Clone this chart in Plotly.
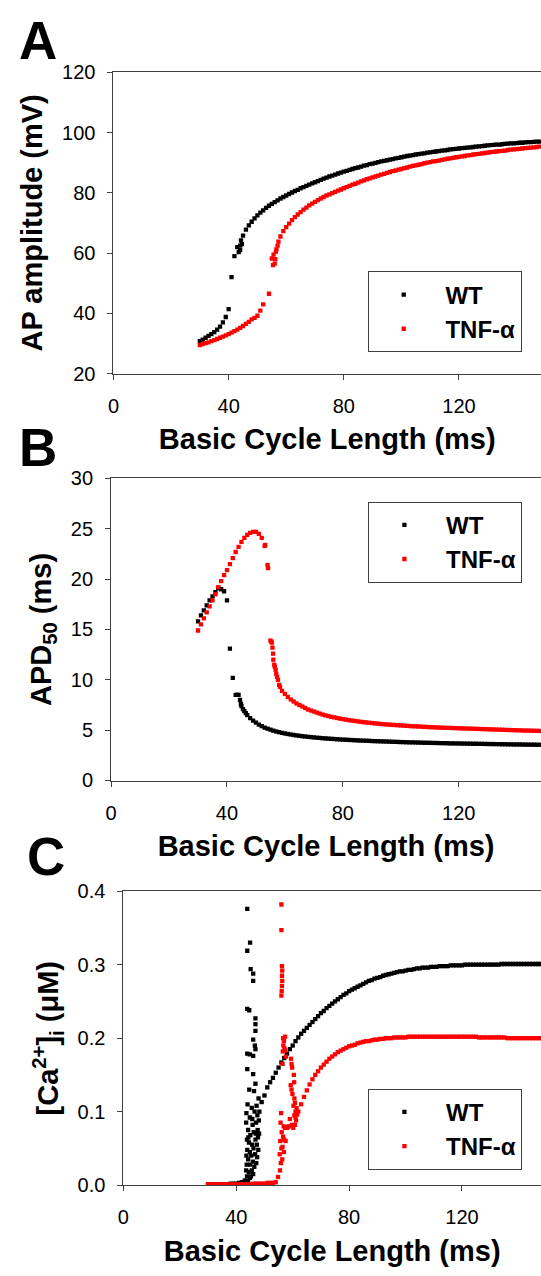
import plotly.graph_objects as go

# ---------------- data ----------------
bcl = [30, 31, 32, 33, 34, 35, 36, 37, 38, 39,
       40, 41, 42, 43, 44, 45, 46, 47, 48, 49,
       50, 51, 52, 53, 54, 55, 56, 57, 58, 59,
       60, 61, 62, 63, 64, 65, 66, 67, 68, 69,
       70, 71, 72, 73, 74, 75, 76, 77, 78, 79,
       80, 81, 82, 83, 84, 85, 86, 87, 88, 89,
       90, 91, 92, 93, 94, 95, 96, 97, 98, 99,
       100, 101, 102, 103, 104, 105, 106, 107, 108, 109,
       110, 111, 112, 113, 114, 115, 116, 117, 118, 119,
       120, 121, 122, 123, 124, 125, 126, 127, 128, 129,
       130, 131, 132, 133, 134, 135, 136, 137, 138, 139,
       140, 141, 142, 143, 144, 145, 146, 147, 148]

# Panel A: AP amplitude (mV)
amp_wt = [30.8, 31.3, 31.9, 32.5, 33.1, 33.8, 34.6, 35.6, 37.0, 38.8,
          41.4, 52.0, 59.0, 62.0, 61.0, 65.8, 67.8, 69.2, 70.4, 71.5,
          72.5, 73.4, 74.2, 75.0, 75.7, 76.3, 76.9, 77.5, 78.1, 78.6,
          79.1, 79.6, 80.1, 80.6, 81.0, 81.5, 81.9, 82.3, 82.7, 83.1,
          83.5, 83.9, 84.3, 84.7, 85.0, 85.4, 85.7, 86.0, 86.4, 86.7,
          87.0, 87.3, 87.6, 87.9, 88.2, 88.4, 88.7, 89.0, 89.2, 89.5,
          89.7, 89.9, 90.2, 90.4, 90.6, 90.8, 91.0, 91.2, 91.4, 91.6,
          91.8, 92.0, 92.2, 92.3, 92.5, 92.7, 92.8, 93.0, 93.1, 93.3,
          93.4, 93.6, 93.7, 93.8, 94.0, 94.1, 94.2, 94.4, 94.5, 94.6,
          94.7, 94.8, 94.9, 95.0, 95.1, 95.2, 95.3, 95.4, 95.5, 95.6,
          95.7, 95.8, 95.9, 96.0, 96.0, 96.1, 96.2, 96.3, 96.4, 96.4,
          96.5, 96.6, 96.6, 96.7, 96.8, 96.8, 96.9, 97.0, 97.0]
amp_tnf = [29.5, 29.8, 30.1, 30.4, 30.8, 31.1, 31.5, 31.9, 32.3, 32.7,
           33.1, 33.6, 34.1, 34.6, 35.2, 35.8, 36.5, 37.2, 38.0, 38.5,
           39.2, 40.9, 43.0, None, 46.5, 58.2, 56.5, 62.5, 65.5, 67.3,
           68.6, 69.8, 70.9, 71.9, 72.8, 73.6, 74.4, 75.1, 75.8, 76.4,
           77.0, 77.6, 78.1, 78.6, 79.1, 79.5, 79.9, 80.3, 80.7, 81.1,
           81.5, 81.9, 82.3, 82.7, 83.0, 83.4, 83.8, 84.1, 84.5, 84.8,
           85.1, 85.4, 85.7, 86.0, 86.3, 86.6, 86.9, 87.2, 87.4, 87.7,
           87.9, 88.2, 88.4, 88.7, 88.9, 89.1, 89.3, 89.5, 89.8, 90.0,
           90.2, 90.4, 90.5, 90.7, 90.9, 91.1, 91.3, 91.4, 91.6, 91.8,
           91.9, 92.1, 92.2, 92.4, 92.5, 92.7, 92.8, 92.9, 93.1, 93.2,
           93.3, 93.5, 93.6, 93.7, 93.8, 93.9, 94.0, 94.2, 94.3, 94.4,
           94.5, 94.6, 94.7, 94.8, 94.9, 95.0, 95.1, 95.2, 95.3]
amp_wt_extra_x = [43.5, 44.0, 44.3, 44.6]
amp_wt_extra_y = [60.3, 62.5, 64.2, 63.0]
amp_tnf_extra_x = [55.4, 55.6, 56.2, 56.4, 56.6, 57.3]
amp_tnf_extra_y = [56.0, 59.5, 58.0, 60.5, 61.2, 63.8]

# Panel B: APD50 (ms)
apd_wt = [15.8, 16.4, 16.9, 17.4, 17.9, 18.3, 18.7, 19.1, 19.0, 18.8,
          17.9, 13.1, 10.2, 8.5, 8.5, 7.4, 6.9, 6.5, 6.2, 5.95,
          5.75, 5.55, 5.4, 5.25, 5.15, 5.05, 4.95, 4.87, 4.8, 4.73,
          4.67, 4.62, 4.57, 4.52, 4.48, 4.44, 4.40, 4.37, 4.34, 4.31,
          4.28, 4.25, 4.23, 4.20, 4.18, 4.16, 4.14, 4.12, 4.10, 4.08,
          4.06, 4.05, 4.03, 4.02, 4.00, 3.99, 3.97, 3.96, 3.95, 3.94,
          3.92, 3.91, 3.90, 3.89, 3.88, 3.87, 3.86, 3.85, 3.84, 3.83,
          3.82, 3.81, 3.80, 3.79, 3.79, 3.78, 3.77, 3.76, 3.75, 3.75,
          3.74, 3.73, 3.73, 3.72, 3.71, 3.71, 3.70, 3.69, 3.69, 3.68,
          3.68, 3.67, 3.67, 3.66, 3.66, 3.65, 3.65, 3.64, 3.64, 3.63,
          3.63, 3.62, 3.62, 3.61, 3.61, 3.60, 3.60, 3.59, 3.59, 3.58,
          3.58, 3.58, 3.57, 3.57, 3.56, 3.56, 3.56, 3.55, 3.55]
apd_tnf = [14.9, 15.5, 16.1, 16.7, 17.3, 17.9, 18.5, 19.2, 19.8, 20.4,
           20.9, 21.5, 22.1, 22.7, 23.2, 23.7, 24.1, 24.4, 24.6, 24.7,
           24.7, 24.5, 24.1, 23.3, 21.4, 13.9, 12.0, 10.6, 9.5, 8.9,
           8.6, 8.3, 8.05, 7.85, 7.65, 7.5, 7.35, 7.2, 7.05, 6.95,
           6.85, 6.75, 6.65, 6.55, 6.47, 6.4, 6.33, 6.27, 6.21, 6.15,
           6.1, 6.05, 6.0, 5.96, 5.92, 5.88, 5.84, 5.8, 5.77, 5.74,
           5.71, 5.68, 5.65, 5.62, 5.6, 5.57, 5.55, 5.53, 5.51, 5.49,
           5.47, 5.45, 5.43, 5.41, 5.39, 5.38, 5.36, 5.35, 5.33, 5.32,
           5.3, 5.29, 5.28, 5.26, 5.25, 5.24, 5.23, 5.22, 5.21, 5.2,
           5.19, 5.18, 5.17, 5.16, 5.15, 5.14, 5.13, 5.12, 5.11, 5.1,
           5.09, 5.08, 5.07, 5.06, 5.05, 5.04, 5.03, 5.02, 5.01, 5.0,
           4.99, 4.98, 4.97, 4.96, 4.96, 4.95, 4.94, 4.93, 4.92]
apd_wt_extra_x = [43.5, 44.5, 44.8, 45.5, 46.5]
apd_wt_extra_y = [8.5, 8.0, 7.6, 7.1, 6.7]
apd_tnf_extra_x = [53.2, 54.2, 55.3, 55.5, 55.7, 55.9, 56.3, 56.5, 56.8, 57.3, 57.6, 58.3]
apd_tnf_extra_y = [23.4, 21.1, 13.8, 13.7, 13.2, 12.6, 11.5, 11.3, 11.0, 10.3, 10.0, 9.3]

# Panel C: [Ca2+]i (uM)
ca_wt = [0.001, 0.001, 0.001, 0.001, 0.001, 0.001, 0.001, 0.001, 0.002, 0.002,
         0.002, 0.003, 0.004, 0.006, None, None, None, None, None, 0.113,
         0.122, 0.133, 0.140, 0.146, 0.153, 0.160, 0.167, 0.173, 0.179, 0.185,
         0.190, 0.196, 0.201, 0.206, 0.210, 0.214, 0.218, 0.222, 0.226, 0.230,
         0.234, 0.237, 0.241, 0.244, 0.247, 0.250, 0.253, 0.256, 0.259, 0.261,
         0.264, 0.266, 0.268, 0.270, 0.272, 0.274, 0.276, 0.278, 0.279, 0.281,
         0.282, 0.283, 0.285, 0.286, 0.287, 0.288, 0.289, 0.290, 0.291, 0.291,
         0.292, 0.293, 0.293, 0.294, 0.295, 0.295, 0.296, 0.296, 0.296, 0.297,
         0.297, 0.297, 0.298, 0.298, 0.298, 0.298, 0.299, 0.299, 0.299, 0.299,
         0.299, 0.300, 0.300, 0.300, 0.300, 0.300, 0.300, 0.300, 0.300, 0.300,
         0.300, 0.300, 0.300, 0.300, 0.301, 0.301, 0.301, 0.301, 0.301, 0.301,
         0.301, 0.301, 0.301, 0.301, 0.301, 0.301, 0.301, 0.301, 0.301]
ca_tnf = [0.001, 0.001, 0.001, 0.001, 0.001, 0.001, 0.001, 0.001, 0.001, 0.001,
          0.001, 0.001, 0.001, 0.001, 0.001, 0.001, 0.002, 0.002, 0.002, 0.002,
          0.002, 0.003, 0.003, 0.003, 0.004, None, None, None, None, None,
          None, 0.092, 0.100, 0.110, 0.120, 0.129, 0.137, 0.144, 0.150, 0.155,
          0.160, 0.164, 0.168, 0.172, 0.175, 0.178, 0.181, 0.183, 0.185, 0.187,
          0.189, 0.190, 0.191, 0.193, 0.194, 0.195, 0.196, 0.196, 0.197, 0.198,
          0.198, 0.199, 0.199, 0.200, 0.200, 0.200, 0.201, 0.201, 0.201, 0.201,
          0.201, 0.202, 0.202, 0.202, 0.202, 0.202, 0.202, 0.202, 0.202, 0.202,
          0.202, 0.202, 0.202, 0.202, 0.202, 0.202, 0.202, 0.202, 0.202, 0.202,
          0.202, 0.202, 0.202, 0.202, 0.202, 0.202, 0.201, 0.201, 0.201, 0.201,
          0.201, 0.201, 0.201, 0.201, 0.201, 0.201, 0.200, 0.200, 0.200, 0.200,
          0.200, 0.200, 0.200, 0.200, 0.200, 0.200, 0.200, 0.200, 0.200]
ca_wt_extra_x = [43.9, 44.9, 43.9, 45.1, 46.0, 46.0, 43.9, 44.6, 46.8, 46.8,
                 46.8, 46.0, 46.6, 46.8, 43.9, 44.8, 46.0, 43.9, 46.0, 46.8,
                 44.6, 46.3, 47.9, 44.0, 45.5, 47.2, 43.6, 46.5, 48.2, 44.8,
                 47.5, 43.5, 45.8, 47.0, 48.0, 44.2, 46.2, 47.6, 45.0, 43.8,
                 46.8, 48.1, 44.5, 45.6, 47.3, 43.9, 46.1, 47.8, 44.8, 43.6,
                 45.3, 46.7, 47.4, 44.2, 45.9, 43.7, 44.9, 46.4, 47.1, 43.5,
                 44.4, 45.5, 46.0, 43.8, 44.8, 45.2, 43.4, 44.2, 47.7, 46.9,
                 45.7, 44.3]
ca_wt_extra_y = [0.376, 0.330, 0.319, 0.294, 0.288, 0.278, 0.240, 0.238, 0.227, 0.219,
                 0.210, 0.198, 0.190, 0.185, 0.179, 0.178, 0.176, 0.158, 0.151, 0.138,
                 0.130, 0.128, 0.118, 0.110, 0.105, 0.108, 0.098, 0.100, 0.100, 0.092,
                 0.095, 0.085, 0.082, 0.085, 0.088, 0.075, 0.072, 0.075, 0.068, 0.062,
                 0.062, 0.070, 0.058, 0.055, 0.055, 0.048, 0.050, 0.048, 0.045, 0.040,
                 0.040, 0.042, 0.038, 0.035, 0.032, 0.028, 0.028, 0.025, 0.030, 0.020,
                 0.018, 0.020, 0.015, 0.012, 0.010, 0.012, 0.006, 0.005, 0.065, 0.070,
                 0.090, 0.065]
ca_tnf_extra_x = [54.8, 55.5, 55.8, 55.4, 56.0, 55.6, 56.1, 55.7, 55.9, 56.0,
                  56.0, 56.2, 56.3, 56.2, 56.3, 56.2, 56.1, 56.0, 56.6, 56.9,
                  57.3, 56.7, 57.1, 56.5, 57.4, 56.4, 57.6, 56.8, 57.3, 57.9,
                  58.3, 56.6, 57.0, 57.5, 56.4, 56.9, 56.3, 59.4, 59.6, 59.8,
                  59.3, 59.6, 59.9, 60.4, 60.5, 60.6, 60.3, 60.8, 61.0, 60.6,
                  61.2, 60.8, 60.2, 59.8, 61.4, 61.6, 59.0, 58.6]
ca_tnf_extra_y = [0.011, 0.020, 0.030, 0.042, 0.050, 0.060, 0.072, 0.085, 0.098, 0.382,
                  0.347, 0.298, 0.292, 0.285, 0.278, 0.271, 0.264, 0.258, 0.200, 0.196,
                  0.202, 0.190, 0.186, 0.182, 0.183, 0.165, 0.175, 0.080, 0.078, 0.078,
                  0.079, 0.066, 0.062, 0.060, 0.052, 0.045, 0.035, 0.172, 0.165, 0.160,
                  0.136, 0.130, 0.124, 0.150, 0.140, 0.118, 0.108, 0.112, 0.100, 0.095,
                  0.088, 0.082, 0.078, 0.082, 0.105, 0.096, 0.090, 0.080]

x_ticks = [0, 40, 80, 120]
series_names = ["WT", "TNF-α"]
series_colors = ["#000000", "#ff0000"]

# ---------------- figure ----------------
W, H = 541, 1276
FONT = "Liberation Sans, Arial, Helvetica, sans-serif"
AXC = "#404040"

fig = go.Figure()

panels = [
    dict(xa="x", ya="y", leg="legend",
         wt=(bcl + amp_wt_extra_x, amp_wt + amp_wt_extra_y),
         tnf=(bcl + amp_tnf_extra_x, amp_tnf + amp_tnf_extra_y)),
    dict(xa="x2", ya="y2", leg="legend2",
         wt=(bcl + apd_wt_extra_x, apd_wt + apd_wt_extra_y),
         tnf=(bcl + apd_tnf_extra_x, apd_tnf + apd_tnf_extra_y)),
    dict(xa="x3", ya="y3", leg="legend3",
         wt=(bcl + ca_wt_extra_x, ca_wt + ca_wt_extra_y),
         tnf=(bcl + ca_tnf_extra_x, ca_tnf + ca_tnf_extra_y)),
]

for p in panels:
    for key, name, col in (("wt", series_names[0], series_colors[0]),
                           ("tnf", series_names[1], series_colors[1])):
        xs, ys = p[key]
        fig.add_trace(go.Scatter(
            x=xs, y=ys, mode="markers", name="\u00a0" + name,
            xaxis=p["xa"], yaxis=p["ya"], legend=p["leg"],
            marker=dict(symbol="square", size=4.3, color=col, line=dict(width=0)),
            showlegend=True,
        ))

def ydom(top_px, bot_px):
    return [1 - bot_px / H, 1 - top_px / H]

tickfont = dict(family=FONT, size=20, color="#000000")
titlefont = dict(family=FONT, size=29, color="#000000", weight="bold")

def xaxis_cfg(left_px, rng, anchor):
    return dict(domain=[left_px / W, 1], range=rng, anchor=anchor,
                tickvals=x_ticks, ticks="outside", ticklen=5, tickwidth=1,
                tickcolor=AXC, showline=True, linecolor=AXC, linewidth=1,
                mirror=True, showgrid=False, zeroline=False,
                tickfont=tickfont, ticklabelstandoff=9,
                title=dict(text="Basic Cycle Length (ms)", font=titlefont, standoff=13))

def yaxis_cfg(dom, rng, tv, anchor, title, fmt=None):
    d = dict(domain=dom, range=rng, anchor=anchor, tickvals=tv,
             ticks="outside", ticklen=5, tickwidth=1, tickcolor=AXC,
             showline=True, linecolor=AXC, linewidth=1, mirror=False,
             showgrid=False, zeroline=False, tickfont=tickfont,
             ticklabelstandoff=8,
             title=dict(text=title, font=titlefont, standoff=10))
    if fmt:
        d["tickformat"] = fmt
    return d

legfont = dict(family=FONT, size=24, color="#000000", weight="bold")

def legend_cfg(left_px, top_px):
    return dict(x=left_px / W, y=1 - top_px / H, xanchor="left", yanchor="top",
                bordercolor=AXC, borderwidth=1, bgcolor="rgba(255,255,255,1)",
                font=legfont, itemwidth=60, tracegroupgap=0)

fig.update_layout(
    width=W, height=H, margin=dict(l=0, r=0, t=0, b=0),
    paper_bgcolor="white", plot_bgcolor="white",
    font=dict(family=FONT, color="#000000"),
    xaxis=xaxis_cfg(108.7, [0, 148.5], "y"),
    yaxis=yaxis_cfg(ydom(62.3, 369.0), [20, 120], [20, 40, 60, 80, 100, 120], "x",
                    "AP amplitude (mV)"),
    xaxis2=xaxis_cfg(106.3, [0, 148.4], "y2"),
    yaxis2=yaxis_cfg(ydom(475.7, 783.0), [0, 30], [0, 5, 10, 15, 20, 25, 30], "x2",
                     "APD<sub>50</sub> (ms)"),
    xaxis3=xaxis_cfg(118.7, [0, 148.0], "y3"),
    yaxis3=yaxis_cfg(ydom(895.7, 1194.7), [0, 0.4], [0, 0.1, 0.2, 0.3, 0.4], "x3",
                     "[Ca<sup>2+</sup>]<sub>i</sub> (μM)", fmt=".1f"),
    legend=legend_cfg(365.8, 265.0),
    legend2=legend_cfg(366.5, 499.3),
    legend3=legend_cfg(366.5, 1096.7),
)

letterfont = dict(family=FONT, size=53, color="#000000", weight="bold")
for txt, cx, cy in (("A", 32, 30), ("B", 32, 444), ("C", 40, 860)):
    fig.add_annotation(text=txt, x=cx / W, y=1 - cy / H, xref="paper", yref="paper",
                       xanchor="center", yanchor="middle", showarrow=False,
                       font=letterfont)

fig.write_html("out.html")
